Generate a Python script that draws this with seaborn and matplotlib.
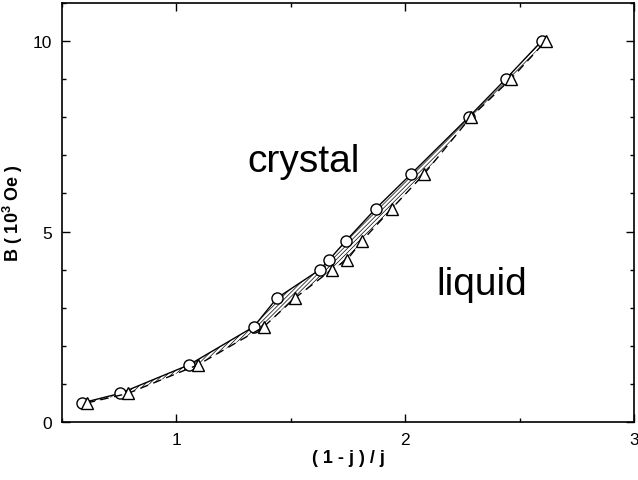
import matplotlib
matplotlib.use("Agg")
import matplotlib.pyplot as plt
from matplotlib.patches import Polygon
from matplotlib.ticker import MultipleLocator
import numpy as np
import seaborn as sns

# data
b_field = [0.5, 0.75, 1.5, 2.5, 3.25, 4.0, 4.25, 4.75, 5.6, 6.5, 8.0, 9.0, 10.0]
x_circle = [0.587, 0.753, 1.055, 1.338, 1.439, 1.627, 1.666, 1.740, 1.871, 2.024, 2.277, 2.439, 2.596]
x_triangle = [0.609, 0.788, 1.094, 1.382, 1.517, 1.679, 1.745, 1.810, 1.941, 2.081, 2.286, 2.461, 2.614]

sns.set_style("ticks")
plt.rcParams["font.family"] = ["Liberation Sans", "DejaVu Sans"]
plt.rcParams["hatch.linewidth"] = 0.5
plt.rcParams["text.color"] = "black"
plt.rcParams["axes.labelcolor"] = "black"
plt.rcParams["xtick.color"] = "black"
plt.rcParams["ytick.color"] = "black"
plt.rcParams["axes.edgecolor"] = "black"

fig = plt.figure(figsize=(6.38, 4.81), dpi=100)
ax = fig.add_axes([62 / 638, 1 - 423 / 481, 572 / 638, 419 / 481])

# hatched band between the two boundaries (outline almost invisible)
band = np.column_stack([np.concatenate([x_circle, x_triangle[::-1]]),
                        np.concatenate([b_field, b_field[::-1]])])
ax.add_patch(Polygon(band, closed=True, fill=False, edgecolor="black",
                     hatch="////////", linewidth=0.3, linestyle=(0, (0.01, 200)), zorder=2))

sns.lineplot(x=x_circle, y=b_field, sort=False, ax=ax, color="black", linewidth=1,
             marker="o", markersize=8, markerfacecolor="white", markeredgecolor="black",
             markeredgewidth=1, zorder=3)
sns.lineplot(x=x_triangle, y=b_field, sort=False, ax=ax, color="black", linewidth=1,
             linestyle=(0, (6, 4)), marker="^", markersize=8, markerfacecolor="white",
             markeredgecolor="black", markeredgewidth=1, zorder=3)

ax.set_xlim(0.5, 3)
ax.set_ylim(0, 11)
ax.xaxis.set_major_locator(MultipleLocator(1))
ax.xaxis.set_minor_locator(MultipleLocator(0.5))
ax.yaxis.set_major_locator(MultipleLocator(5))
ax.yaxis.set_minor_locator(MultipleLocator(1))
ax.tick_params(which="both", direction="in", top=True, right=True, width=1, labelsize=12.5)
ax.tick_params(which="major", length=6, pad=7)
ax.tick_params(which="minor", length=3)
for s in ax.spines.values():
    s.set_linewidth(1.2)

ax.set_xlabel("( 1 - j ) / j", fontsize=13, fontweight="bold", labelpad=2)
ax.set_ylabel(r"B ( 10$^{\mathregular{3}}$ Oe )", fontsize=13, fontweight="bold", labelpad=6)

ax.text(1.312, 6.6, "crystal", fontsize=28)
ax.text(2.138, 3.37, "liquid", fontsize=28)

fig.savefig("out.png", dpi=100)
